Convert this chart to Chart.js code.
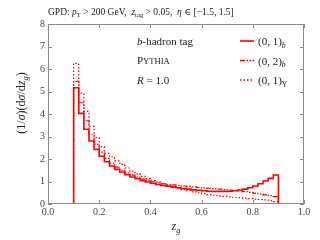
<!DOCTYPE html>
<html>
<head>
<meta charset="utf-8">
<script src="https://cdn.jsdelivr.net/npm/chart.js@4"></script>
<style>
  html, body { margin: 0; padding: 0; background: #fff; }
  canvas { display: block; }
</style>
</head>
<body>
<canvas id="myChart" width="320" height="240"></canvas>
<script>
// lower bin edges of z_g (bin width 0.02, last bin ends at 0.90)
var binLo = [0.10, 0.12, 0.14, 0.16, 0.18, 0.20, 0.22, 0.24, 0.26, 0.28,
             0.30, 0.32, 0.34, 0.36, 0.38, 0.40, 0.42, 0.44, 0.46, 0.48,
             0.50, 0.52, 0.54, 0.56, 0.58, 0.60, 0.62, 0.64, 0.66, 0.68,
             0.70, 0.72, 0.74, 0.76, 0.78, 0.80, 0.82, 0.84, 0.86, 0.88];
var binEnd = 0.90;

// (0,1)_b  solid
var b01 = [5.17, 4.03, 3.32, 2.80, 2.43, 2.12, 1.88, 1.69, 1.54, 1.42,
           1.30, 1.20, 1.12, 1.04, 0.98, 0.92, 0.87, 0.83, 0.79, 0.76,
           0.72, 0.69, 0.66, 0.63, 0.61, 0.59, 0.57, 0.56, 0.56, 0.56,
           0.57, 0.59, 0.62, 0.66, 0.72, 0.80, 0.90, 1.02, 1.14, 1.29];
// (0,2)_b  dash-dot
var b02 = [5.45, 4.50, 3.70, 3.10, 2.65, 2.30, 2.03, 1.82, 1.64, 1.50,
           1.38, 1.28, 1.19, 1.11, 1.05, 0.99, 0.94, 0.90, 0.87, 0.85,
           0.83, 0.80, 0.78, 0.76, 0.74, 0.72, 0.70, 0.68, 0.66, 0.64,
           0.62, 0.60, 0.58, 0.55, 0.52, 0.48, 0.45, 0.41, 0.37, 0.33];
// (0,1)_Upsilon  dotted
var ups01 = [6.25, 4.93, 4.12, 3.45, 2.95, 2.55, 2.25, 2.10, 1.92, 1.76,
             1.60, 1.46, 1.34, 1.23, 1.13, 1.04, 0.97, 0.90, 0.83, 0.76,
             0.70, 0.64, 0.59, 0.54, 0.50, 0.46, 0.42, 0.39, 0.36, 0.34,
             0.32, 0.30, 0.28, 0.26, 0.24, 0.22, 0.20, 0.18, 0.15, 0.11];

var xTicks = [0.0, 0.2, 0.4, 0.6, 0.8, 1.0];
var yTicks = [0, 1, 2, 3, 4, 5, 6, 7, 8];

var SERIF = "'Liberation Serif', 'DejaVu Serif', serif";
var RED = "#ff0000";
var FRAME = "#8a8a8a";

function steps(vals) {
  var pts = [{x: 0, y: 0}];
  for (var i = 0; i < binLo.length; i++) pts.push({x: binLo[i], y: vals[i]});
  pts.push({x: binEnd, y: 0});
  pts.push({x: 1, y: 0});
  return pts;
}

// draw text made of segments: [text, style] with style r / i / sr / si / sc
function rich(ctx, x, y, segs, size, align) {
  function font(st) {
    var sub = st == "sr" || st == "si";
    var it = st.indexOf("i") >= 0;
    var sz = sub ? size * 0.7 : (st == "sc" ? size * 0.78 : size);
    return (it ? "italic " : "") + sz + "px " + SERIF;
  }
  var w = 0;
  segs.forEach(function (s) { ctx.font = font(s[1]); w += ctx.measureText(s[0]).width; });
  var cx = align == "center" ? x - w / 2 : x;
  ctx.textAlign = "left";
  ctx.textBaseline = "alphabetic";
  segs.forEach(function (s) {
    ctx.font = font(s[1]);
    var dy = (s[1] == "sr" || s[1] == "si") ? size * 0.25 : 0;
    ctx.fillText(s[0], cx, y + dy);
    cx += ctx.measureText(s[0]).width;
  });
}

var decor = {
  id: "decor",
  afterDraw: function (chart) {
    var ctx = chart.ctx, a = chart.chartArea;
    var xs = chart.scales.x, ys = chart.scales.y;
    ctx.save();
    // frame + inward ticks
    ctx.strokeStyle = FRAME;
    ctx.lineWidth = 1;
    ctx.strokeRect(a.left + 0.5, a.top + 0.5, a.right - a.left - 1, a.bottom - a.top - 1);
    ctx.beginPath();
    xTicks.forEach(function (v) {
      var px = Math.round(xs.getPixelForValue(v)) + 0.5;
      ctx.moveTo(px, a.bottom); ctx.lineTo(px, a.bottom - 4);
      ctx.moveTo(px, a.top); ctx.lineTo(px, a.top + 4);
    });
    yTicks.forEach(function (v) {
      var py = Math.round(ys.getPixelForValue(v)) + 0.5;
      ctx.moveTo(a.left, py); ctx.lineTo(a.left + 4, py);
      ctx.moveTo(a.right, py); ctx.lineTo(a.right - 4, py);
    });
    ctx.stroke();

    ctx.fillStyle = "#222";
    // title
    rich(ctx, a.left, 15, [["GPD: ", "r"], ["p", "i"], ["T", "sr"], [" > 200 GeV,  ", "r"],
      ["z", "i"], ["tag", "sr"], [" > 0.05,  ", "r"], ["\u03b7", "i"], [" \u2208 [\u22121.5, 1.5]", "r"]], 9.5);
    // axis titles
    rich(ctx, (a.left + a.right) / 2, 230, [["z", "i"], ["g", "si"]], 12, "center");
    ctx.save();
    ctx.translate(25, 103);
    ctx.rotate(-Math.PI / 2);
    rich(ctx, 0, 0, [["(1/", "r"], ["\u03c3", "i"], [")(d", "r"], ["\u03c3", "i"], ["/d", "r"],
      ["z", "i"], ["g", "si"], [")", "r"]], 12, "center");
    ctx.restore();

    // annotation block
    rich(ctx, 137, 45, [["b", "i"], ["-hadron tag", "r"]], 11);
    rich(ctx, 137, 64, [["P", "r"], ["YTHIA", "sc"]], 11);
    rich(ctx, 137, 84, [["R", "i"], [" = 1.0", "r"]], 11);

    // legend
    var leg = [
      {dash: [], w: 1.6, segs: [["(0, 1)", "r"], ["b", "si"]]},
      {dash: [5, 1.5, 1.5, 1.5, 1.5, 1.5], w: 1.3, segs: [["(0, 2)", "r"], ["b", "si"]]},
      {dash: [1.5, 2], w: 1.3, segs: [["(0, 1)", "r"], ["\u03a5", "sr"]]}
    ];
    leg.forEach(function (l, i) {
      var yy = 41 + i * 19.5;
      ctx.strokeStyle = RED;
      ctx.lineWidth = l.w;
      ctx.setLineDash(l.dash);
      ctx.beginPath();
      ctx.moveTo(240, yy); ctx.lineTo(254, yy);
      ctx.stroke();
      ctx.setLineDash([]);
      ctx.fillStyle = "#222";
      rich(ctx, 258, yy + 4, l.segs, 11);
    });
    ctx.restore();
  }
};

var tickFont = {family: SERIF, size: 10};

new Chart(document.getElementById("myChart"), {
  type: "line",
  data: {
    datasets: [
      {label: "(0,1)_b", data: steps(b01), borderColor: RED, borderWidth: 1.6,
       stepped: true, pointRadius: 0, fill: false},
      {label: "(0,2)_b", data: steps(b02), borderColor: RED, borderWidth: 1.2,
       borderDash: [5, 1.5, 1.5, 1.5, 1.5, 1.5], stepped: true, pointRadius: 0, fill: false},
      {label: "(0,1)_Y", data: steps(ups01), borderColor: RED, borderWidth: 1.2,
       borderDash: [1.5, 2], stepped: true, pointRadius: 0, fill: false}
    ]
  },
  options: {
    responsive: false,
    animation: false,
    devicePixelRatio: 1,
    layout: {padding: {top: 24, right: 16, left: 0, bottom: 0}},
    plugins: {legend: {display: false}, tooltip: {enabled: false}},
    scales: {
      x: {
        type: "linear", min: 0, max: 1,
        afterBuildTicks: function (s) { s.ticks = xTicks.map(function (v) { return {value: v}; }); },
        afterFit: function (s) { s.height = 36; },
        ticks: {font: tickFont, color: "#444", padding: 2, maxRotation: 0,
                callback: function (v) { return v.toFixed(1); }},
        grid: {display: false, drawTicks: false},
        border: {display: false}
      },
      y: {
        min: 0, max: 8,
        afterBuildTicks: function (s) { s.ticks = yTicks.map(function (v) { return {value: v}; }); },
        afterFit: function (s) { s.width = 48; },
        ticks: {font: tickFont, color: "#444", padding: 3,
                callback: function (v) { return String(v); }},
        grid: {display: false, drawTicks: false},
        border: {display: false}
      }
    }
  },
  plugins: [decor]
});
</script>
</body>
</html>
